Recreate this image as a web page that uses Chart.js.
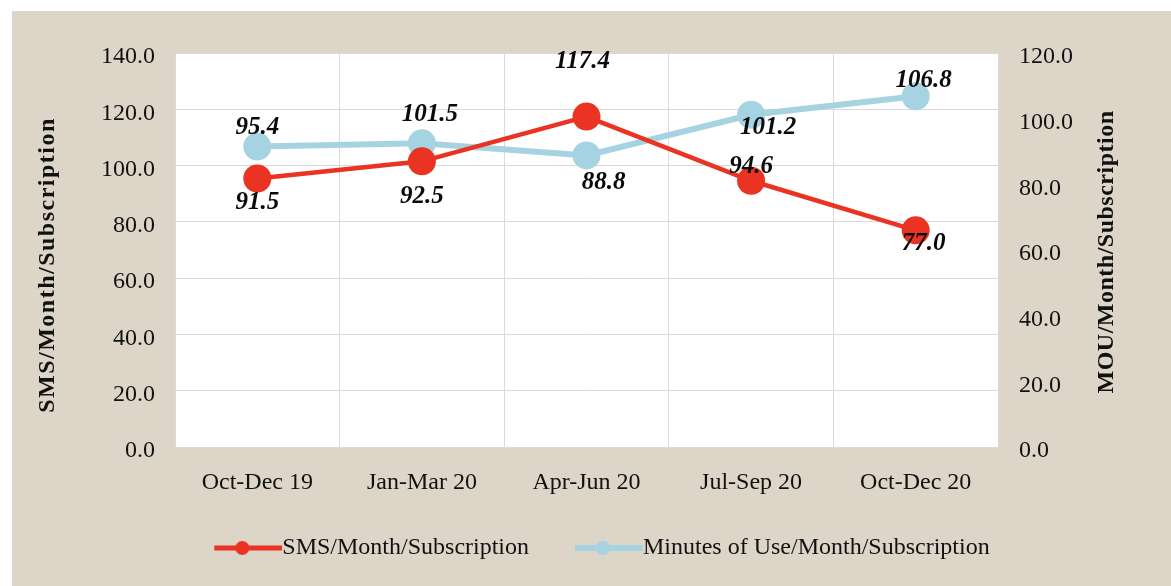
<!DOCTYPE html>
<html>
<head>
<meta charset="utf-8">
<title>SMS and MOU per subscription</title>
<script src="https://cdn.jsdelivr.net/npm/chart.js@4.4.1/dist/chart.umd.min.js"></script>
<style>
  html, body { margin: 0; padding: 0; background: #fff; }
  #paper { position: absolute; left: 12px; top: 11px; width: 1159px; height: 575px; background: #ddd5c8; }
  #chart { position: absolute; left: 0; top: 0; }
</style>
</head>
<body>
<div id="paper"></div>
<canvas id="chart" width="1171" height="586"></canvas>
<script>
// ---- data ---------------------------------------------------
const quarters  = ['Oct-Dec 19', 'Jan-Mar 20', 'Apr-Jun 20', 'Jul-Sep 20', 'Oct-Dec 20'];
const smsPerSub = [95.4, 101.5, 117.4, 94.6, 77.0];
const mouPerSub = [91.5, 92.5, 88.8, 101.2, 106.8];
const smsAxis   = [0, 140, 20];   // min, max, step
const mouAxis   = [0, 120, 20];

// ---- style --------------------------------------------------
const SERIF = "'Liberation Serif', 'Times New Roman', serif";
const RED   = '#ea3322';
const BLUE  = '#a6d3e2';
const INK   = '#111';
const GRID  = '#dadada';

// label nudges (px) per series / point, so the value labels sit where the original put them
const LABEL_SHIFT = [
  [[0, -51], [8, -47], [-4, -55], [0, -14], [8, 13]],
  [[0, 56], [0, 53], [17, 27], [17, 13], [8, -16]],
];

// legend marker: line + dot, a bit wider than the legend box so the line runs up to the text
function legendMarker(color, lineW, dotR) {
  const c = document.createElement('canvas');
  c.width = 80; c.height = 18;
  const g = c.getContext('2d');
  g.strokeStyle = color; g.lineWidth = lineW;
  g.beginPath(); g.moveTo(12, 9); g.lineTo(80, 9); g.stroke();
  g.fillStyle = color;
  g.beginPath(); g.arc(40, 9, dotR, 0, Math.PI * 2); g.fill();
  return c;
}
const markers = [legendMarker(RED, 5, 7), legendMarker(BLUE, 6, 7)];

// ── plugins ─────────────────────────────────────────────────
const plotBg = {
  id: 'plotBg',
  beforeDraw(chart) {
    const { ctx, chartArea: a } = chart;
    ctx.save();
    ctx.fillStyle = '#fff';
    ctx.fillRect(a.left, a.top, a.right - a.left, a.bottom - a.top);
    ctx.restore();
  },
};

const valueLabels = {
  id: 'valueLabels',
  afterDatasetsDraw(chart) {
    const ctx = chart.ctx;
    ctx.save();
    ctx.font = `italic bold 25px ${SERIF}`;
    ctx.fillStyle = '#0a0a0a';
    ctx.textAlign = 'center';
    ctx.textBaseline = 'middle';
    chart.data.datasets.forEach((ds, i) => {
      chart.getDatasetMeta(i).data.forEach((pt, j) => {
        const [dx, dy] = LABEL_SHIFT[i][j];
        ctx.fillText(ds.data[j].toFixed(1), pt.x + dx, pt.y + dy);
      });
    });
    ctx.restore();
  },
};

const axisTitles = {
  id: 'axisTitles',
  afterDraw(chart) {
    const ctx = chart.ctx;
    const draw = (text, x, y, spacing) => {
      ctx.save();
      ctx.translate(x, y);
      ctx.rotate(-Math.PI / 2);
      ctx.font = `bold 24px ${SERIF}`;
      ctx.letterSpacing = spacing;
      ctx.fillStyle = INK;
      ctx.textAlign = 'center';
      ctx.textBaseline = 'middle';
      ctx.fillText(text, 0, 0);
      ctx.restore();
    };
    draw('SMS/Month/Subscription', 48, 265, '1.5px');
    draw('MOU/Month/Subscription', 1107, 252, '0.5px');
  },
};

// ── chart ───────────────────────────────────────────────────
const tickFont = { family: SERIF, size: 24 };

new Chart(document.getElementById('chart'), {
  type: 'line',
  data: {
    labels: quarters,
    datasets: [
      {
        label: 'SMS/Month/Subscription',
        data: smsPerSub,
        yAxisID: 'ySms',
        borderColor: RED,
        backgroundColor: RED,
        borderWidth: 4.5,
        pointRadius: 14,
        pointHoverRadius: 14,
        pointBorderWidth: 0,
        pointBackgroundColor: RED,
      },
      {
        label: 'Minutes of Use/Month/Subscription',
        data: mouPerSub,
        yAxisID: 'yMou',
        borderColor: BLUE,
        backgroundColor: BLUE,
        borderWidth: 6,
        pointRadius: 14,
        pointHoverRadius: 14,
        pointBorderWidth: 0,
        pointBackgroundColor: BLUE,
      },
    ],
  },
  options: {
    responsive: false,
    devicePixelRatio: 1,
    animation: false,
    layout: { padding: { left: 33, right: 0, top: 53, bottom: 16 } },
    plugins: {
      tooltip: { enabled: false },
      legend: {
        position: 'bottom',
        labels: {
          usePointStyle: true,
          pointStyleWidth: 56,
          padding: 10,
          color: INK,
          font: { family: SERIF, size: 24 },
          generateLabels: chart => chart.data.datasets.map((ds, i) => ({
            text: ds.label + (i === 0 ? '\u00a0'.repeat(6) : ''),
            pointStyle: markers[i],
            fillStyle: ds.borderColor,
            strokeStyle: ds.borderColor,
            lineWidth: 0,
            fontColor: INK,
            hidden: false,
            datasetIndex: i,
          })),
        },
      },
    },
    scales: {
      x: {
        offset: true,
        grid: { offset: true, color: GRID, drawTicks: false },
        border: { display: false },
        ticks: { color: INK, font: tickFont, padding: 21, maxRotation: 0 },
        afterFit: s => { s.height = 79; },
      },
      ySms: {
        position: 'left',
        min: smsAxis[0], max: smsAxis[1],
        grid: { color: GRID, drawTicks: false },
        border: { display: false },
        ticks: {
          stepSize: smsAxis[2], color: INK, font: tickFont, padding: 20, labelOffset: 4,
          callback: v => v.toFixed(1),
        },
        afterFit: s => { s.width = 142; },
      },
      yMou: {
        position: 'right',
        min: mouAxis[0], max: mouAxis[1],
        grid: { display: false, drawTicks: false },
        border: { display: false },
        ticks: {
          stepSize: mouAxis[2], color: INK, font: tickFont, padding: 21, labelOffset: 4,
          callback: v => v.toFixed(1),
        },
        afterFit: s => { s.width = 173; },
      },
    },
  },
  plugins: [plotBg, valueLabels, axisTitles],
});
</script>
</body>
</html>
